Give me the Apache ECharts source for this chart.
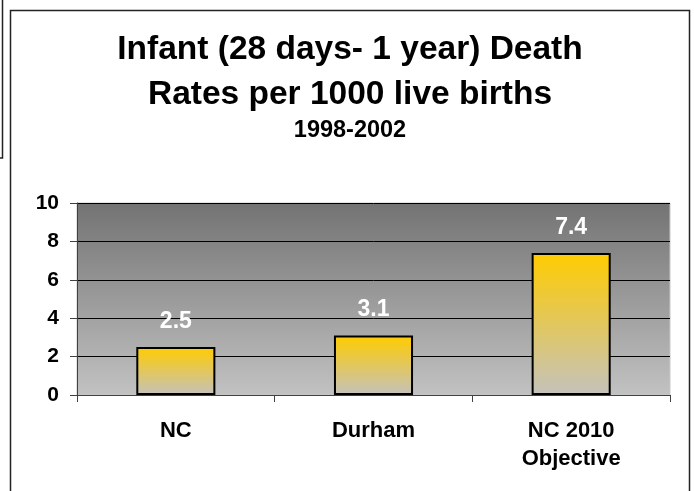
<!DOCTYPE html>
<html lang="en">
<head>
	<meta charset="UTF-8">
	<title>Infant Death Rates</title>
	<style>
		html, body { margin: 0; padding: 0; background: #fff; }
		#main { width: 694px; height: 491px; }
	</style>
	<script src="https://cdn.jsdelivr.net/npm/echarts@6/dist/echarts.min.js"></script>
</head>
<body>
	<div id="main"></div>
</body>
</html>
<script>
	// data
	var categories = ['NC', 'Durham', 'NC 2010\nObjective'];
	var rates = [2.5, 3.1, 7.4];
	var yMin = 0, yMax = 10, yStep = 2;
	var titleText = 'Infant (28 days- 1 year) Death\nRates per 1000 live births';
	var subText = '1998-2002';

	var font = 'Arial, "Liberation Sans", sans-serif';
	var chart = echarts.init(document.getElementById('main'));

	var option = {
		backgroundColor: '#fff',
		animation: false,
		title: [{
			text: titleText,
			left: 350,
			top: 27,
			textAlign: 'center',
			padding: 0,
			textStyle: { fontFamily: font, fontSize: 33.5, fontWeight: 'bold', color: '#000', lineHeight: 45 }
		}, {
			text: subText,
			left: 350,
			top: 119,
			textAlign: 'center',
			padding: 0,
			textStyle: { fontFamily: font, fontSize: 23.5, fontWeight: 'bold', color: '#000', lineHeight: 23 }
		}],
		grid: {
			left: 77, right: 24, top: 203, bottom: 96,
			show: true,
			borderColor: '#c8c8c8',
			borderWidth: 1,
			backgroundColor: new echarts.graphic.LinearGradient(0, 0, 0, 1, [
				{ offset: 0, color: '#737373' },
				{ offset: 1, color: '#c2c2c2' }
			])
		},
		xAxis: {
			type: 'category',
			data: categories,
			axisLine: { lineStyle: { color: '#404040', width: 1 } },
			axisTick: { show: true, length: 7, alignWithLabel: false, lineStyle: { color: '#404040' } },
			axisLabel: { fontFamily: font, fontSize: 22, fontWeight: 'bold', color: '#000', margin: 22, lineHeight: 28 }
		},
		yAxis: {
			type: 'value',
			min: yMin, max: yMax, interval: yStep,
			axisLine: { show: true, lineStyle: { color: '#404040', width: 1 } },
			axisTick: { show: true, length: 7, lineStyle: { color: '#404040' } },
			axisLabel: { fontFamily: font, fontSize: 21, fontWeight: 'bold', color: '#000', margin: 18 },
			splitLine: { lineStyle: { color: '#000', width: 1 } }
		},
		series: [{
			type: 'bar',
			data: rates,
			barWidth: '40%',
			itemStyle: {
				borderColor: '#000',
				borderWidth: 2,
				color: new echarts.graphic.LinearGradient(0, 0, 0, 1, [
					{ offset: 0, color: '#ffcc00' },
					{ offset: 1, color: '#c4c2bc' }
				])
			},
			label: {
				show: true,
				position: 'top',
				distance: 14,
				fontFamily: font,
				fontSize: 23,
				fontWeight: 'bold',
				color: '#fff'
			}
		}],
		graphic: [{
			type: 'rect', silent: true,
			shape: { x: 10.5, y: 10.5, width: 679, height: 520 },
			style: { fill: 'none', stroke: '#222', lineWidth: 1.5 }
		}, {
			type: 'rect', silent: true,
			shape: { x: -10, y: -10, width: 12.5, height: 168 },
			style: { fill: 'none', stroke: '#222', lineWidth: 1.5 }
		}]
	};
	chart.setOption(option);
</script>
